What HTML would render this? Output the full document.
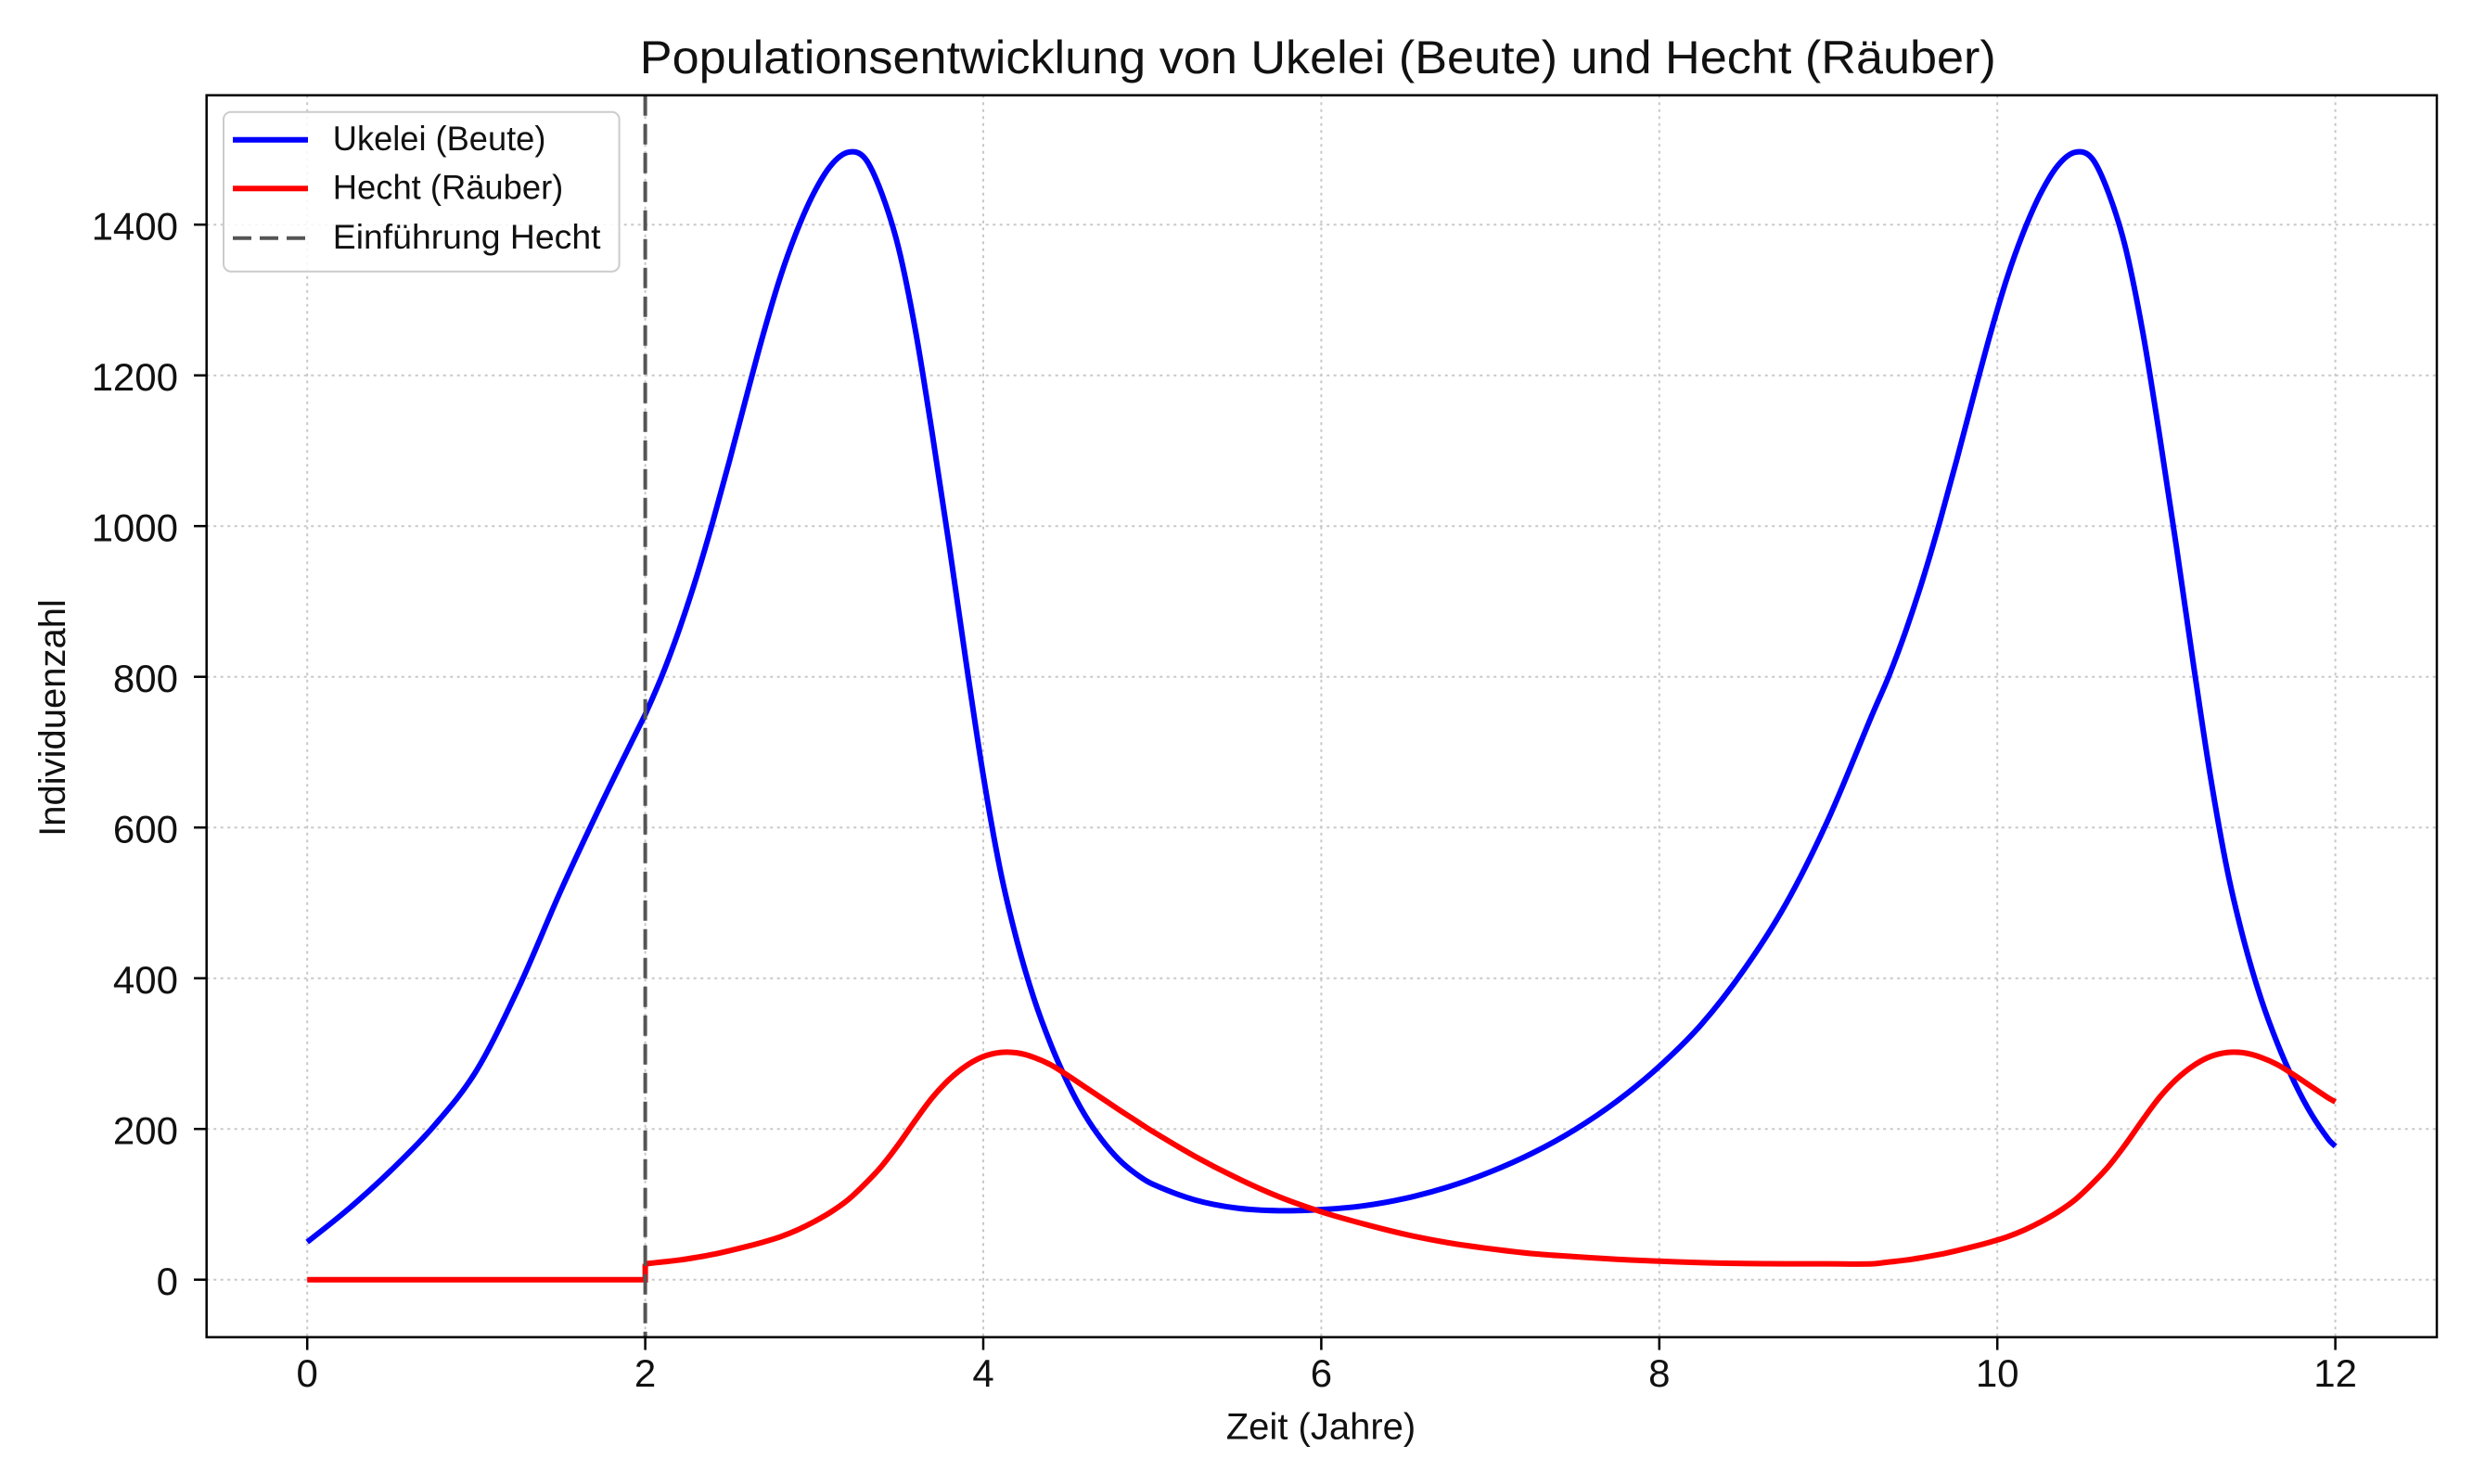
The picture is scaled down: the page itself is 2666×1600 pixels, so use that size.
<!DOCTYPE html>
<html>
<head>
<meta charset="utf-8">
<style>
  html, body { margin: 0; padding: 0; background: #ffffff; overflow: hidden; }
  svg { display: block; }
  text { font-family: "Liberation Sans", "DejaVu Sans", sans-serif; fill: #111; }
</style>
</head>
<body>
<svg width="2666" height="1600" viewBox="0 0 2666 1600" xmlns="http://www.w3.org/2000/svg">
  <rect x="0" y="0" width="2666" height="1600" fill="#ffffff"/>

  <!-- Title -->
  <text x="1420.8" y="79" font-size="50" text-anchor="middle" textLength="1462" lengthAdjust="spacingAndGlyphs">Populationsentwicklung von Ukelei (Beute) und Hecht (Räuber)</text>

  <!-- Grid lines -->
  <g stroke="#c8c8c8" stroke-width="2" stroke-dasharray="3 4.5" fill="none">
    <line x1="331.2" y1="102.7" x2="331.2" y2="1441.7"/>
    <line x1="695.6" y1="102.7" x2="695.6" y2="1441.7"/>
    <line x1="1060.0" y1="102.7" x2="1060.0" y2="1441.7"/>
    <line x1="1424.4" y1="102.7" x2="1424.4" y2="1441.7"/>
    <line x1="1788.8" y1="102.7" x2="1788.8" y2="1441.7"/>
    <line x1="2153.2" y1="102.7" x2="2153.2" y2="1441.7"/>
    <line x1="2517.6" y1="102.7" x2="2517.6" y2="1441.7"/>

    <line x1="222.7" y1="1379.7" x2="2627" y2="1379.7"/>
    <line x1="222.7" y1="1217.2" x2="2627" y2="1217.2"/>
    <line x1="222.7" y1="1054.7" x2="2627" y2="1054.7"/>
    <line x1="222.7" y1="892.2" x2="2627" y2="892.2"/>
    <line x1="222.7" y1="729.7" x2="2627" y2="729.7"/>
    <line x1="222.7" y1="567.2" x2="2627" y2="567.2"/>
    <line x1="222.7" y1="404.7" x2="2627" y2="404.7"/>
    <line x1="222.7" y1="242.2" x2="2627" y2="242.2"/>
  </g>

  <!-- Data curves (data space transformed to pixels) -->
  <g transform="translate(331.2 1379.7) scale(182.2 -0.8125)">
    <path fill="none" stroke="#0000ff" stroke-width="6" vector-effect="non-scaling-stroke" stroke-linejoin="round"
      d="M0,50 S0.1667,79 0.25,95 S0.4167,127.83 0.5,146 S0.6667,182.17 0.75,204 S0.9167,246.5 1.0,277 S1.1667,347.17 1.25,387 S1.4167,474.5 1.5,516 S1.6667,597 1.75,636 S1.9167,712.5 2.0,750 C2.0333,766.67 2.0667,783.33 2.1,802 S2.1667,840.67 2.2,862 S2.2667,906 2.3,930 S2.3667,979.67 2.4,1006 S2.4667,1060.17 2.5,1088 S2.5667,1145 2.6,1173 S2.6667,1229.67 2.7,1256 S2.7667,1308.17 2.8,1331 S2.8667,1374.33 2.9,1393 S2.9667,1428.67 3.0,1443 S3.0667,1470.17 3.1,1479 S3.1667,1494.5 3.2,1496 S3.2667,1497.17 3.3,1488 S3.3667,1461 3.4,1441 S3.4667,1398.5 3.5,1368 S3.5667,1299.33 3.6,1258 S3.6667,1167.67 3.7,1120 S3.7667,1022.5 3.8,972 S3.8667,867.5 3.9,817 S3.9667,714.5 4.0,669 S4.0667,580.67 4.1,544 S4.1667,477.5 4.2,449 S4.2667,395.83 4.3,373 S4.3667,330.67 4.4,312 S4.4667,276.5 4.5,261 S4.5667,231.5 4.6,219 S4.6667,195.83 4.7,186 S4.7667,167.5 4.8,160 S4.8667,146.5 4.9,141 S4.9667,130.33 5.0,127 C5.0833,118.67 5.1667,111.33 5.25,106 S5.4167,97.42 5.5,95 S5.6667,91.83 5.75,91.5 S5.9167,91.92 6.0,93 S6.1667,95.5 6.25,98 S6.4167,103.83 6.5,108 S6.6667,117.17 6.75,123 S6.9167,135.5 7.0,143 S7.1667,158.67 7.25,168 S7.4167,187.5 7.5,199 S7.6667,223 7.75,237 S7.9167,266 8.0,283 S8.1667,317.67 8.25,339 S8.4167,384.33 8.5,411 S8.6667,465.67 8.75,499 S8.9167,570 9.0,611 S9.1733,704 9.26,750 C9.2933,767.69 9.3267,783.33 9.36,802 S9.4267,840.67 9.46,862 S9.5267,906 9.56,930 S9.6267,979.67 9.66,1006 S9.7267,1060.17 9.76,1088 S9.8267,1145 9.86,1173 S9.9267,1229.67 9.96,1256 S10.0267,1308.17 10.06,1331 S10.1267,1374.33 10.16,1393 S10.2267,1428.67 10.26,1443 S10.3267,1470.17 10.36,1479 S10.4267,1494.5 10.46,1496 S10.5267,1497.17 10.56,1488 S10.6267,1461 10.66,1441 S10.7267,1398.5 10.76,1368 S10.8267,1299.33 10.86,1258 S10.9267,1167.67 10.96,1120 S11.0267,1022.5 11.06,972 S11.1267,867.5 11.16,817 S11.2267,714.5 11.26,669 S11.3267,580.67 11.36,544 S11.4267,477.5 11.46,449 S11.5267,395.83 11.56,373 S11.6267,330.67 11.66,312 S11.7267,276.5 11.76,261 S11.8267,231.5 11.86,219 S11.9267,196 11.96,186 C11.9733,182 11.9867,180 12.0,177"/>
    <path fill="none" stroke="#ff0000" stroke-width="6" vector-effect="non-scaling-stroke" stroke-linejoin="miter"
      d="M0,0 L2,0 L2,21"/>
    <path fill="none" stroke="#ff0000" stroke-width="6" vector-effect="non-scaling-stroke" stroke-linejoin="round"
      d="M2,21 S2.0667,22.67 2.1,23.5 S2.1667,25 2.2,26 S2.2667,28.25 2.3,29.5 S2.3667,32 2.4,33.5 S2.4667,36.75 2.5,38.5 S2.5667,42.08 2.6,44 S2.6667,47.83 2.7,50 S2.7667,54.33 2.8,57 S2.8667,62.67 2.9,66 S2.9667,73 3.0,77 S3.0667,85.17 3.1,90 S3.1667,99.83 3.2,106 S3.2667,119.5 3.3,127 S3.3667,142.17 3.4,151 S3.4667,169.83 3.5,180 S3.5667,201.67 3.6,212 S3.6667,233 3.7,242 S3.7667,259 3.8,266 S3.8667,279 3.9,284 S3.9667,293.08 4.0,296 S4.0667,300.67 4.1,301.5 S4.1667,302.08 4.2,301 S4.2667,297.67 4.3,295 S4.3667,289 4.4,285 S4.4667,275.83 4.5,271 S4.5667,261 4.6,256 S4.6667,246 4.7,241 S4.7667,230.92 4.8,226 S4.8667,216.33 4.9,211.5 S4.9667,201.52 5.0,197 C5.0833,185.69 5.1667,174.33 5.25,164 S5.4167,144 5.5,135 S5.6667,117.5 5.75,110 S5.9167,96 6.0,90 S6.1667,79 6.25,74 S6.4167,64.17 6.5,60 S6.6667,52.17 6.75,49 S6.9167,43.42 7.0,41 S7.1667,36.25 7.25,34.5 S7.4167,31.75 7.5,30.5 S7.6667,28 7.75,27 S7.9167,25.25 8.0,24.5 S8.1667,23 8.25,22.5 S8.4167,21.75 8.5,21.5 S8.6667,21.08 8.75,21 S8.9167,21 9.0,21 S9.1733,20.4 9.26,21 C9.2933,21.23 9.3267,22.67 9.36,23.5 S9.4267,25 9.46,26 S9.5267,28.25 9.56,29.5 S9.6267,32 9.66,33.5 S9.7267,36.75 9.76,38.5 S9.8267,42.08 9.86,44 S9.9267,47.83 9.96,50 S10.0267,54.33 10.06,57 S10.1267,62.67 10.16,66 S10.2267,73 10.26,77 S10.3267,85.17 10.36,90 S10.4267,99.83 10.46,106 S10.5267,119.5 10.56,127 S10.6267,142.17 10.66,151 S10.7267,169.83 10.76,180 S10.8267,201.67 10.86,212 S10.9267,233 10.96,242 S11.0267,259 11.06,266 S11.1267,279 11.16,284 S11.2267,293.08 11.26,296 S11.3267,300.67 11.36,301.5 S11.4267,302.08 11.46,301 S11.5267,297.67 11.56,295 S11.6267,289 11.66,285 S11.7267,275.83 11.76,271 S11.8267,261 11.86,256 S11.9267,245.76 11.96,241 C11.9733,239.1 11.9867,237.67 12.0,236"/>
  </g>

  <!-- Predator introduction line -->
  <line x1="695.6" y1="102.7" x2="695.6" y2="1441.7" stroke="#555555" stroke-width="4" stroke-dasharray="22 9"/>

  <!-- Axes frame -->
  <rect x="222.7" y="102.7" width="2404.3" height="1339" fill="none" stroke="#000" stroke-width="2.5"/>

  <!-- Y ticks -->
  <g stroke="#000" stroke-width="2.5">
    <line x1="209" y1="1379.7" x2="222.7" y2="1379.7"/>
    <line x1="209" y1="1217.2" x2="222.7" y2="1217.2"/>
    <line x1="209" y1="1054.7" x2="222.7" y2="1054.7"/>
    <line x1="209" y1="892.2" x2="222.7" y2="892.2"/>
    <line x1="209" y1="729.7" x2="222.7" y2="729.7"/>
    <line x1="209" y1="567.2" x2="222.7" y2="567.2"/>
    <line x1="209" y1="404.7" x2="222.7" y2="404.7"/>
    <line x1="209" y1="242.2" x2="222.7" y2="242.2"/>
  </g>
  <g font-size="42" text-anchor="end">
    <text x="192" y="1396">0</text>
    <text x="192" y="1233.5">200</text>
    <text x="192" y="1071">400</text>
    <text x="192" y="908.5">600</text>
    <text x="192" y="746">800</text>
    <text x="192" y="583.5">1000</text>
    <text x="192" y="421">1200</text>
    <text x="192" y="258.5">1400</text>
  </g>

  <!-- X ticks -->
  <g stroke="#000" stroke-width="2.5">
    <line x1="331.2" y1="1441.7" x2="331.2" y2="1455.5"/>
    <line x1="695.6" y1="1441.7" x2="695.6" y2="1455.5"/>
    <line x1="1060.0" y1="1441.7" x2="1060.0" y2="1455.5"/>
    <line x1="1424.4" y1="1441.7" x2="1424.4" y2="1455.5"/>
    <line x1="1788.8" y1="1441.7" x2="1788.8" y2="1455.5"/>
    <line x1="2153.2" y1="1441.7" x2="2153.2" y2="1455.5"/>
    <line x1="2517.6" y1="1441.7" x2="2517.6" y2="1455.5"/>
  </g>
  <g font-size="42" text-anchor="middle">
    <text x="331.2" y="1495">0</text>
    <text x="695.6" y="1495">2</text>
    <text x="1060.0" y="1495">4</text>
    <text x="1424.4" y="1495">6</text>
    <text x="1788.8" y="1495">8</text>
    <text x="2153.2" y="1495">10</text>
    <text x="2517.6" y="1495">12</text>
  </g>

  <!-- Axis labels -->
  <text x="1424" y="1551.7" font-size="40" text-anchor="middle">Zeit (Jahre)</text>
  <text transform="translate(70 774) rotate(-90)" font-size="40" text-anchor="middle">Individuenzahl</text>

  <!-- Legend -->
  <rect x="241" y="120.7" width="426.6" height="172" rx="8" ry="8" fill="#ffffff" fill-opacity="0.85" stroke="#cccccc" stroke-width="2"/>
  <line x1="251" y1="150.7" x2="332" y2="150.7" stroke="#0000ff" stroke-width="6"/>
  <line x1="251" y1="203.3" x2="332" y2="203.3" stroke="#ff0000" stroke-width="6"/>
  <line x1="251" y1="256.7" x2="332" y2="256.7" stroke="#555555" stroke-width="4" stroke-dasharray="20 9"/>
  <g font-size="37">
    <text x="358.8" y="162" textLength="229.6" lengthAdjust="spacingAndGlyphs">Ukelei (Beute)</text>
    <text x="358.8" y="214.5" textLength="248.5" lengthAdjust="spacingAndGlyphs">Hecht (Räuber)</text>
    <text x="358.8" y="268" textLength="288.7" lengthAdjust="spacingAndGlyphs">Einführung Hecht</text>
  </g>
</svg>
</body>
</html>
